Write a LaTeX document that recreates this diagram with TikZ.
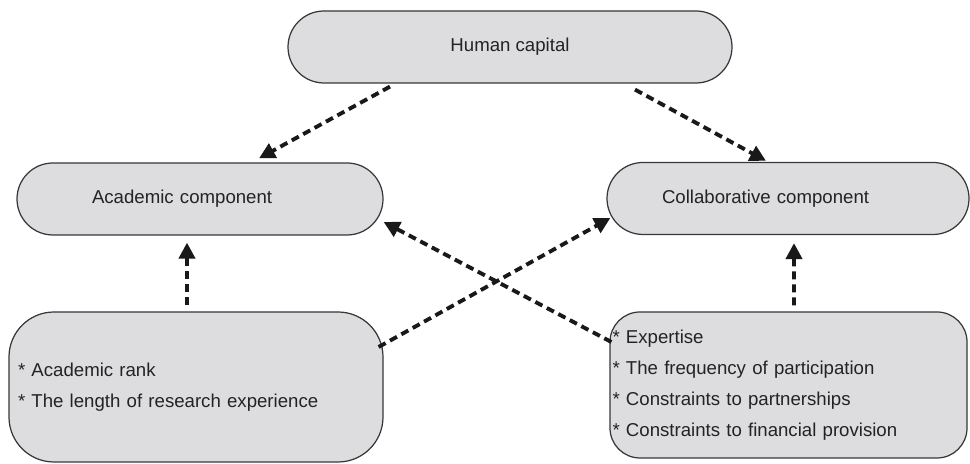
\documentclass[tikz,border=0pt]{standalone}
\usepackage{fontspec}
\setmainfont{Liberation Sans}
\usetikzlibrary{arrows.meta}
\definecolor{boxgray}{RGB}{221,221,223}
\definecolor{linegray}{RGB}{55,55,55}
\definecolor{textgray}{RGB}{35,35,35}

\begin{document}
\begin{tikzpicture}[every node/.style={draw=linegray, fill=boxgray, line width=0.7pt, text=textgray, font=\fontsize{10.6}{17.6}\selectfont},
		pill/.style={rounded corners=0.72cm, minimum height=1.44cm, align=left},
		dasharrow/.style={draw=black!90, line width=2.2pt, dash pattern=on 0.16cm off 0.1cm, -{Triangle[length=0.32cm,width=0.32cm]}}]
				\useasboundingbox (0,0) rectangle (19.4,9.28);
				\node[pill, minimum width=8.88cm] (hc) at (10.2,8.34) {Human capital};
				\node[pill, text width=4.32cm, inner xsep=1.5cm] (ac) at (4.0,5.30) {Academic component};
				\node[pill, text width=5.04cm, inner xsep=1.1cm] (cc) at (15.76,5.31) {Collaborative component};
				\node[rounded corners=0.9cm, text width=7.12cm, inner xsep=0.18cm, minimum height=3.0cm, align=left] (al) at (3.92,1.54) {{*} Academic rank\\{*} The length of research experience};
				\node[rounded corners=0.6cm, text width=7.04cm, inner xsep=0.05cm, minimum height=2.92cm, align=left] (cl) at (15.77,1.58) {{*} Expertise\\{*} The frequency of participation\\{*} Constraints to partnerships\\{*} Constraints to financial provision};
				
				\path ([xshift=-2.4cm,yshift=-0.06cm]hc.south) edge[dasharrow] ([xshift=1.18cm,yshift=0.08cm]ac.north);
				\path ([xshift=2.5cm,yshift=-0.12cm]hc.south) edge[dasharrow] ([xshift=-0.44cm,yshift=0.02cm]cc.north);
				\path ([xshift=-0.18cm,yshift=0.12cm]al.north) edge[dasharrow] ([xshift=-0.26cm,yshift=-0.14cm]ac.south);
				\path ([xshift=0.11cm,yshift=0.12cm]cl.north) edge[dasharrow] ([xshift=0.12cm,yshift=-0.16cm]cc.south);
				\path ([xshift=-0.1cm,yshift=0.8cm]al.east) edge[dasharrow] ([xshift=0.08cm,yshift=-0.39cm]cc.west);
				\path ([xshift=0.04cm,yshift=0.86cm]cl.west) edge[dasharrow] ([yshift=-0.46cm]ac.east);
				\end{tikzpicture}
\end{document}
